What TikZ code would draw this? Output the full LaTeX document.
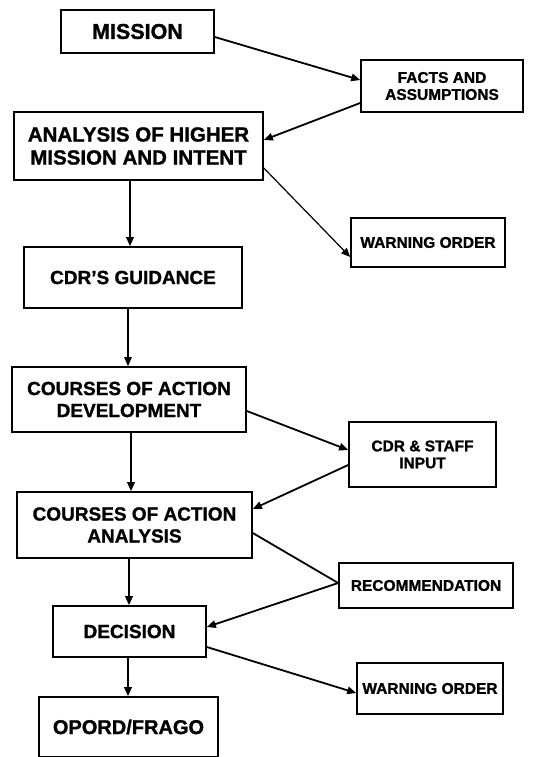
\documentclass[tikz,border=0pt]{standalone}
\usepackage{fontspec}
\setmainfont{Liberation Sans}[BoldFeatures={FakeBold=1.2}]
\usetikzlibrary{arrows.meta}

\tikzset{
	bigbox/.style={draw, line width=1.6pt, inner sep=0pt, align=center, font=\fontsize{19}{22}\selectfont\bfseries},
	smallbox/.style={draw, line width=1.6pt, inner sep=0pt, align=center, font=\fontsize{15.5}{17}\selectfont\bfseries},
	link/.style={line width=1.8pt},
	flow/.style={link, -{Triangle[length=9pt,width=7.5pt]}},
	thinflow/.style={flow, line width=1.2pt}
}

\begin{document}
\begin{tikzpicture}[x=1pt, y=-1pt]
		\useasboundingbox (0,0) rectangle (549,757);
		
		\node[bigbox, font=\fontsize{21.5}{22}\selectfont\bfseries, minimum width=153pt, minimum height=43pt] (mission) at (137.5,31.5) {MISSION};
		\node[smallbox, minimum width=162pt, minimum height=52pt] (facts) at (442,86) {FACTS AND\\ASSUMPTIONS};
		\node[bigbox, font=\fontsize{20.5}{23}\selectfont\bfseries, minimum width=249pt, minimum height=68pt] (analysis) at (138.5,146) {ANALYSIS OF HIGHER\\MISSION AND INTENT};
		\node[smallbox, minimum width=154pt, minimum height=49pt] (warn1) at (428,242.5) {WARNING ORDER};
		\node[bigbox, minimum width=218pt, minimum height=61pt] (guidance) at (133,277.5) {CDR\char39S GUIDANCE};
		\node[bigbox, minimum width=234pt, minimum height=65pt] (coadev) at (129,399.5) {COURSES OF ACTION\\DEVELOPMENT};
		\node[smallbox, minimum width=147pt, minimum height=65pt] (input) at (422.5,454.5) {CDR \& STAFF\\INPUT};
		\node[bigbox, minimum width=235pt, minimum height=66pt] (coaana) at (134.5,525) {COURSES OF ACTION\\ANALYSIS};
		\node[smallbox, minimum width=174pt, minimum height=45pt] (recom) at (426,585.5) {RECOMMENDATION};
		\node[bigbox, minimum width=153pt, minimum height=51pt] (decision) at (129.5,631.5) {DECISION};
		\node[smallbox, minimum width=146pt, minimum height=51pt] (warn2) at (430,688.5) {WARNING ORDER};
		\node[bigbox, font=\fontsize{20}{22}\selectfont\bfseries, minimum width=179pt, minimum height=60pt] (opord) at (128.5,727) {OPORD/FRAGO};
		
		\draw[flow] ([yshift=-5.5pt]mission.east) -- ([yshift=6pt]facts.west);
		\draw[flow] ([yshift=-17pt]facts.west) -- ([yshift=6pt]analysis.east);
		\draw[thinflow] ([yshift=-22pt]analysis.east) -- ([yshift=-14.5pt]warn1.west);
		\draw[flow] ([xshift=-8.5pt]analysis.south) -- ([xshift=-3pt]guidance.north);
		\draw[thinflow] ([xshift=-5pt]guidance.south) -- ([xshift=-1pt]coadev.north);
		\draw[flow] ([yshift=-11.5pt]coadev.east) -- ([yshift=4.5pt]input.west);
		\draw[flow] ([xshift=2pt]coadev.south) -- ([xshift=-3.5pt]coaana.north);
		\draw[flow] ([yshift=-10.5pt]input.west) -- ([yshift=16pt]coaana.east);
		\draw[link] ([yshift=-8pt]coaana.east) -- ([yshift=2.5pt]recom.west);
		\draw[flow] ([yshift=2.5pt]recom.west) -- ([yshift=4.5pt]decision.east);
		\draw[flow] ([xshift=-5.5pt]coaana.south) -- ([xshift=-0.5pt]decision.north);
		\draw[flow] ([yshift=-15.5pt]decision.east) -- ([yshift=-4.5pt]warn2.west);
		\draw[flow] ([xshift=-1.5pt]decision.south) -- ([xshift=-0.5pt]opord.north);
	\end{tikzpicture}
\end{document}
